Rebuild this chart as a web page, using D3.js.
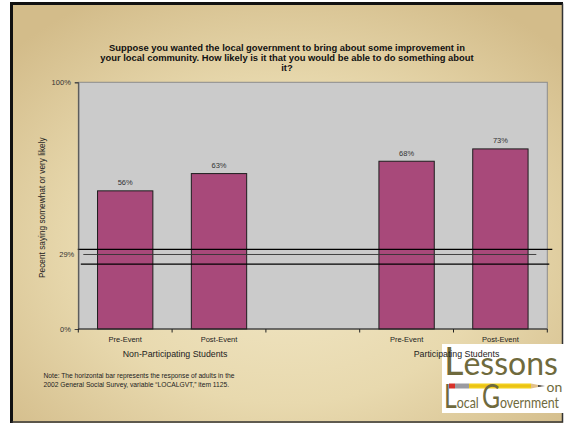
<!DOCTYPE html>
<html>
<head>
<meta charset="utf-8">
<script src="https://cdn.jsdelivr.net/npm/d3@7"></script>
<style>
  html, body { margin: 0; padding: 0; background: #fff; }
  svg { display: block; font-family: "Liberation Sans", Arial, sans-serif; }
</style>
</head>
<body>
<svg id="chart" width="571" height="424"></svg>
<script>
// chart data
const categoryKeys = ["np-pre", "np-post", "gap", "p-pre", "p-post"];
const categoryLabels = ["Pre-Event", "Post-Event", "", "Pre-Event", "Post-Event"];
const percentValues = [56, 63, null, 68, 73];
const groupNames = ["Non-Participating Students", "Participating Students"];
const groupMembers = [["np-pre", "np-post"], ["p-pre", "p-post"]];
const yTickValues = [0, 100];
const adultLineValues = [32.3, 30.2, 26.3];
const adultLabel = "29%";
const titleLines = [
  "Suppose you wanted the local government to bring about some improvement in",
  "your local community. How likely is it that you would be able to do something about",
  "it?"
];
const noteLines = [
  "Note: The horizontal bar represents the response of adults in the",
  "2002 General Social Survey, variable \u201cLOCALGVT,\u201d item 1125."
];

const svg = d3.select("#chart");
const plot = { left: 78.3, right: 547.3, top: 82.3, bottom: 329 };

// slide background
const defs = svg.append("defs");
const grad = defs.append("radialGradient")
  .attr("id", "bg")
  .attr("cx", "50%").attr("cy", "58%").attr("r", "68%");
grad.append("stop").attr("offset", "0%").attr("stop-color", "#f2e8c8");
grad.append("stop").attr("offset", "55%").attr("stop-color", "#e8d9ae");
grad.append("stop").attr("offset", "100%").attr("stop-color", "#d3bc8a");

svg.append("rect")
  .attr("x", 10).attr("y", 2)
  .attr("width", 553).attr("height", 421)
  .attr("fill", "url(#bg)");
// frame: heavy on top/left, thin on right/bottom
svg.append("path")
  .attr("d", "M11.5,423 L11.5,3.5 L563,3.5")
  .attr("fill", "none").attr("stroke", "#111").attr("stroke-width", 3);
svg.append("path")
  .attr("d", "M562.5,3.5 L562.5,422 L11.5,422")
  .attr("fill", "none").attr("stroke", "#333").attr("stroke-width", 1.5);

// scales
const x = d3.scaleBand()
  .domain(categoryKeys)
  .range([plot.left, plot.right])
  .paddingInner(0.41)
  .paddingOuter(0.205);

const y = d3.scaleLinear()
  .domain([0, 100])
  .range([plot.bottom, plot.top]);

// plot area
svg.append("rect")
  .attr("x", plot.left).attr("y", plot.top)
  .attr("width", plot.right - plot.left)
  .attr("height", plot.bottom - plot.top)
  .attr("fill", "#cbcbcb")
  .attr("stroke", "#8c8c8c")
  .attr("stroke-width", 1);

// bars
const bars = categoryKeys
  .map((k, i) => ({ key: k, value: percentValues[i] }))
  .filter(d => d.value !== null);

svg.append("g")
  .selectAll("rect")
  .data(bars)
  .join("rect")
  .attr("x", d => x(d.key))
  .attr("y", d => y(d.value))
  .attr("width", x.bandwidth())
  .attr("height", d => y(0) - y(d.value))
  .attr("fill", "#a8497a")
  .attr("stroke", "#1e1e1e")
  .attr("stroke-width", 1);

svg.append("g")
  .selectAll("text")
  .data(bars)
  .join("text")
  .attr("x", d => x(d.key) + x.bandwidth() / 2)
  .attr("y", d => y(d.value) - 5.5)
  .attr("text-anchor", "middle")
  .attr("font-size", 7.5)
  .attr("fill", "#333")
  .text(d => d.value + "%");

// adult reference lines (hand-drawn in the original, so extents differ)
const lineExtents = [[-0.5, 5], [5, -11], [2.5, 2]];
svg.append("g")
  .selectAll("line")
  .data(adultLineValues)
  .join("line")
  .attr("x1", (d, i) => plot.left + lineExtents[i][0])
  .attr("x2", (d, i) => plot.right + lineExtents[i][1])
  .attr("y1", d => y(d))
  .attr("y2", d => y(d))
  .attr("stroke", (d, i) => i === 1 ? "#333" : "#000")
  .attr("stroke-width", (d, i) => i === 1 ? 0.9 : 1.3);

svg.append("text")
  .attr("x", plot.left - 4)
  .attr("y", y(adultLineValues[1]) + 2.5)
  .attr("text-anchor", "end")
  .attr("font-size", 7.5)
  .attr("fill", "#333")
  .text(adultLabel);

// y axis
const yAxis = svg.append("g")
  .attr("transform", `translate(${plot.left},0)`)
  .call(d3.axisLeft(y).tickValues(yTickValues).tickSize(3.5).tickPadding(4)
    .tickFormat(d => d + "%"));
yAxis.select(".domain").attr("stroke", "#444");
yAxis.selectAll(".tick line").attr("stroke", "#444");
yAxis.selectAll(".tick text")
  .attr("font-size", 7.5)
  .attr("fill", "#333")
  .attr("font-family", "Liberation Sans, Arial, sans-serif");

// x axis with ticks on category boundaries
const gapHalf = (x.step() - x.bandwidth()) / 2;
const boundaries = categoryKeys.map(k => x(k) - gapHalf)
  .concat([x(categoryKeys[categoryKeys.length - 1]) + x.bandwidth() + gapHalf]);

const xAxis = svg.append("g");
xAxis.append("line")
  .attr("x1", plot.left).attr("x2", plot.right)
  .attr("y1", plot.bottom).attr("y2", plot.bottom)
  .attr("stroke", "#222").attr("stroke-width", 1);
xAxis.selectAll("line.tick")
  .data(boundaries)
  .join("line")
  .attr("class", "tick")
  .attr("x1", d => d).attr("x2", d => d)
  .attr("y1", plot.bottom).attr("y2", plot.bottom + 3.5)
  .attr("stroke", "#222");
xAxis.selectAll("text")
  .data(categoryKeys.map((k, i) => ({ key: k, label: categoryLabels[i] })))
  .join("text")
  .attr("x", d => x(d.key) + x.bandwidth() / 2)
  .attr("y", plot.bottom + 13)
  .attr("text-anchor", "middle")
  .attr("font-size", 7.5)
  .attr("fill", "#222")
  .text(d => d.label);

// y axis title
svg.append("text")
  .attr("transform", `translate(44.5,${(plot.top + plot.bottom) / 2 + 2}) rotate(-90)`)
  .attr("text-anchor", "middle")
  .attr("font-size", 8.3)
  .attr("fill", "#222")
  .text("Pecent saying somewhat or very likely");

// chart title
svg.append("g")
  .selectAll("text")
  .data(titleLines)
  .join("text")
  .attr("x", 287)
  .attr("y", (d, i) => 50.5 + i * 10.3)
  .attr("text-anchor", "middle")
  .attr("font-size", 9.4)
  .attr("font-weight", "bold")
  .attr("fill", "#111")
  .text(d => d);

// note
svg.append("g")
  .selectAll("text")
  .data(noteLines)
  .join("text")
  .attr("x", 43.5)
  .attr("y", (d, i) => 377.5 + i * 9.3)
  .attr("font-size", 6.7)
  .attr("fill", "#222")
  .text(d => d);

// logo
const logo = svg.append("g");
const olive = "#6f6a3d";
const logoFont = "Lato, 'Open Sans', sans-serif";
logo.append("rect")
  .attr("x", 442).attr("y", 344)
  .attr("width", 123).attr("height", 69)
  .attr("fill", "#fff");
const lessons = logo.append("text")
  .attr("x", 444).attr("y", 375)
  .attr("fill", olive)
  .attr("font-family", logoFont)
  .attr("textLength", 114)
  .attr("lengthAdjust", "spacingAndGlyphs");
lessons.append("tspan").attr("font-size", 39).text("L");
lessons.append("tspan").attr("font-size", 33).text("essons");

// pencil
logo.append("rect").attr("x", 449).attr("y", 383.5).attr("width", 6).attr("height", 5).attr("fill", "#d8322a");
logo.append("rect").attr("x", 455).attr("y", 383.5).attr("width", 14).attr("height", 5).attr("fill", "#9a9aa0");
logo.append("rect").attr("x", 469).attr("y", 383.5).attr("width", 62).attr("height", 5).attr("fill", "#f2cf1c");
logo.append("line").attr("x1", 469).attr("x2", 531).attr("y1", 386).attr("y2", 386)
  .attr("stroke", "#d9a90f").attr("stroke-width", 0.6);
logo.append("path").attr("d", "M531,383.5 L541,385.6 L541,386.4 L531,388.5 Z").attr("fill", "#e2c08a");
logo.append("path").attr("d", "M538,385 L545,386 L538,387 Z").attr("fill", "#444");

logo.append("text")
  .attr("x", 546.5).attr("y", 392)
  .attr("font-size", 14)
  .attr("fill", olive)
  .attr("font-family", logoFont)
  .text("on");

// condensed lettering, squeezed horizontally
const squeeze = 0.76;
const local = logo.append("text")
  .attr("transform", `translate(444,408) scale(${squeeze},1)`)
  .attr("fill", olive)
  .attr("font-family", logoFont)
  .attr("textLength", 115 / squeeze)
  .attr("lengthAdjust", "spacingAndGlyphs");
local.append("tspan").attr("font-size", 32).text("L");
local.append("tspan").attr("font-size", 16).text("ocal ");
local.append("tspan").attr("font-size", 32).text("G");
local.append("tspan").attr("font-size", 16).text("overnment");

// group labels drawn over the logo, as in the original
svg.append("g")
  .selectAll("text")
  .data(groupNames)
  .join("text")
  .attr("x", (d, i) => {
    const m = groupMembers[i];
    return (x(m[0]) + x(m[m.length - 1]) + x.bandwidth()) / 2 + 3;
  })
  .attr("y", plot.bottom + 28)
  .attr("text-anchor", "middle")
  .attr("font-size", 8.8)
  .attr("fill", "#222")
  .text(d => d);
</script>
</body>
</html>
